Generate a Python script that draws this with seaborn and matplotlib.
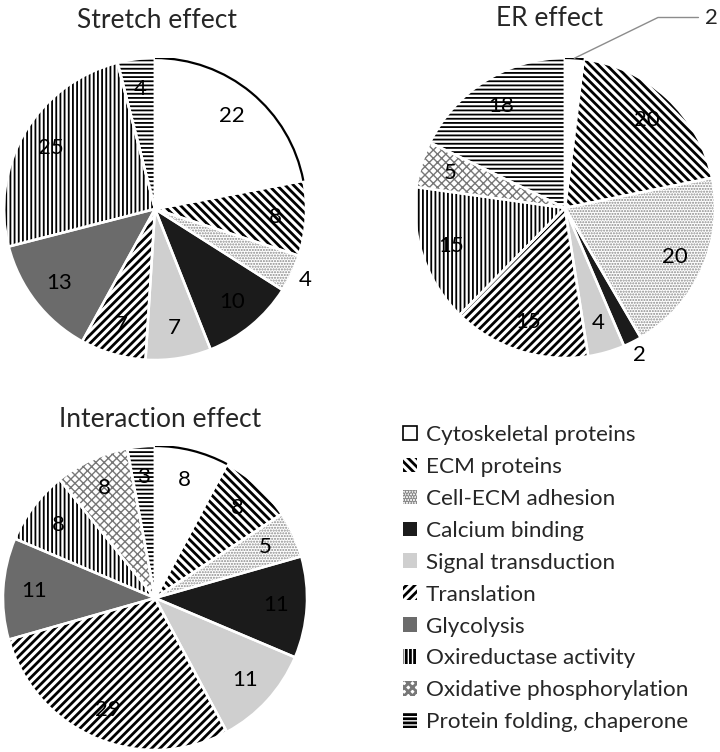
import numpy as np
import matplotlib
matplotlib.use("Agg")
import matplotlib.pyplot as plt
from matplotlib.patches import Patch, Arc
import seaborn as sns

sns.set_theme(style="white")
plt.rcParams["font.family"] = ["Lato", "DejaVu Sans"]
plt.rcParams["hatch.linewidth"] = 2.0

# categories (legend order = slice order, clockwise from 12 o'clock)
categories = ["Cytoskeletal proteins", "ECM proteins", "Cell-ECM adhesion",
              "Calcium binding", "Signal transduction", "Translation",
              "Glycolysis", "Oxireductase activity", "Oxidative phosphorylation",
              "Protein folding, chaperone"]

stretch = [22, 8, 4, 10, 7, 7, 13, 25, 0, 4]
er = [2, 20, 20, 2, 4, 15, 0, 15, 5, 18]
interaction = [8, 8, 5, 11, 11, 29, 11, 8, 8, 3]

# fill style per category: facecolor, hatch, hatch colour, hatch linewidth
styles = [
    ("white", "", "black", 1.0),
    ("white", "\\\\\\\\", "black", 2.0),
    ("white", "......", "#8a8a8a", 1.0),
    ("#1b1b1b", "", "black", 1.0),
    ("#cfcfcf", "", "black", 1.0),
    ("white", "////", "black", 2.0),
    ("#6b6b6b", "", "black", 1.0),
    ("white", "||||", "black", 1.3),
    ("white", "xxxx", "#777777", 1.0),
    ("white", "----", "black", 1.3),
]

W, H = 720, 752
fig = plt.figure(figsize=(W / 100, H / 100), dpi=100)


def pie_axes(cx, cy, r):
    return fig.add_axes([(cx - r) / W, (H - cy - r) / H, 2 * r / W, 2 * r / H])


def draw_pie(ax, values, outside=(), skip=(), fs=16):
    wedges, _ = ax.pie(values, startangle=90, counterclock=False, radius=1,
                       wedgeprops=dict(linewidth=0))
    for w, (fc, hatch, hc, hlw) in zip(wedges, styles):
        w.set_facecolor(fc)
        w.set_edgecolor(hc)
        w.set_hatch(hatch)
        if hasattr(w, "set_hatch_linewidth"):
            w.set_hatch_linewidth(hlw)
    # white separators on top
    ax.pie(values, startangle=90, counterclock=False, radius=1,
           wedgeprops=dict(facecolor="none", edgecolor="white", linewidth=1.8))
    # black arc on the white (cytoskeletal) slice
    w0 = wedges[0]
    ax.add_patch(Arc((0, 0), 2, 2, theta1=w0.theta1, theta2=w0.theta2,
                     color="black", lw=1.6))
    for i, (w, v) in enumerate(zip(wedges, values)):
        if v == 0 or i in skip:
            continue
        ang = np.deg2rad((w.theta1 + w.theta2) / 2)
        rr = 1.1 if i in outside else 0.8
        ax.text(rr * np.cos(ang), rr * np.sin(ang), str(v), ha="center",
                va="center", fontsize=fs, color="black")
    ax.set_xlim(-1, 1)
    ax.set_ylim(-1, 1)
    ax.set_aspect("equal")
    ax.axis("off")
    return wedges


ax1 = pie_axes(155, 209, 151)
draw_pie(ax1, stretch, outside=(2,))

ax2 = pie_axes(565, 208, 150)
w2 = draw_pie(ax2, er, outside=(3,), skip=(0,))
# leader line for the tiny cytoskeletal slice
ang0 = np.deg2rad((w2[0].theta1 + w2[0].theta2) / 2)
ax2.annotate(str(er[0]), xy=(np.cos(ang0), np.sin(ang0)), xytext=(0.93, 1.27),
             fontsize=16, ha="left", va="center", annotation_clip=False,
             arrowprops=dict(arrowstyle="-", color="#8c8c8c", lw=1,
                             connectionstyle="angle,angleA=0,angleB=26,rad=0",
                             shrinkA=2, shrinkB=0))

ax3 = pie_axes(155, 598, 152)
draw_pie(ax3, interaction)

fig.text(157 / W, 1 - 20 / H, "Stretch effect", ha="center", va="center", fontsize=19)
fig.text(550 / W, 1 - 18 / H, "ER effect", ha="center", va="center", fontsize=19)
fig.text(160 / W, 1 - 420 / H, "Interaction effect", ha="center", va="center", fontsize=19)

handles = []
for fc, hatch, hc, hlw in styles:
    p = Patch(facecolor=fc, edgecolor=hc if hatch else "black", hatch=hatch,
              linewidth=1.2 if fc == "white" and not hatch else 0)
    handles.append(p)
fig.legend(handles, categories, loc="upper left", bbox_to_anchor=(394 / W, 1 - 416 / H),
           frameon=False, fontsize=16.2, handlelength=0.62, handleheight=0.62,
           handletextpad=0.38, labelspacing=0.53, borderaxespad=0)

fig.savefig("out.png", dpi=100)
